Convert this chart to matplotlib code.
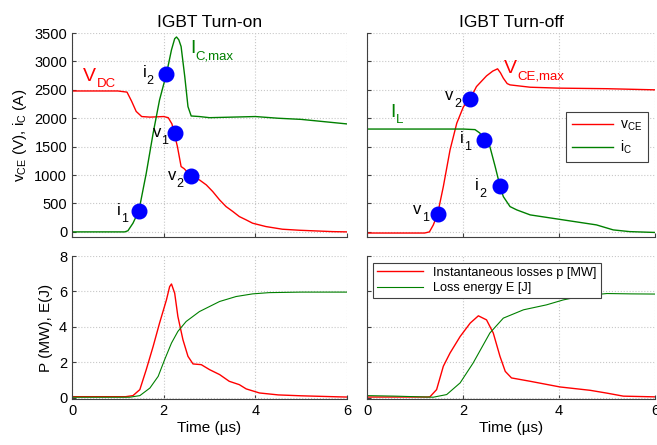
import matplotlib
matplotlib.use("Agg")
import matplotlib.pyplot as plt

plt.rcParams['font.family'] = ['Liberation Sans', 'DejaVu Sans']
plt.rcParams['mathtext.fontset'] = 'custom'
plt.rcParams['mathtext.rm'] = 'Liberation Sans'
plt.rcParams['mathtext.it'] = 'Liberation Sans'

# ---------------- data ----------------
# turn-on: collector-emitter voltage (V)
on_v_t = [0, 1.0, 1.2, 1.3, 1.4, 1.52, 1.7, 2.0, 2.1, 2.18, 2.3, 2.38, 2.45, 2.52, 2.6,
          2.78, 2.93, 3.07, 3.22, 3.36, 3.51, 3.65, 3.8, 3.94, 4.23, 4.59, 4.96, 5.68, 6.0]
on_v = [2480, 2480, 2460, 2300, 2120, 2030, 2020, 2030, 2010, 1900, 1500, 1150, 1110, 1050, 985,
        915, 827, 710, 563, 446, 358, 270, 211, 153, 94, 47, 29, 5, 0]
# turn-on: collector current (A)
on_i_t = [0, 1.15, 1.22, 1.33, 1.46, 1.62, 1.77, 1.91, 2.06, 2.17, 2.24, 2.28, 2.33, 2.38, 2.46,
          2.53, 2.6, 2.78, 3.0, 3.5, 4.0, 4.5, 5.0, 5.5, 6.0]
on_i = [0, 0, 20, 153, 375, 1033, 1737, 2323, 2780, 3203, 3400, 3430, 3380, 3262, 2733,
        2205, 2040, 2030, 2010, 2020, 2030, 2000, 1980, 1940, 1900]
# turn-on: losses p (MW) and energy E (J)
on_p_t = [0, 1.17, 1.33, 1.48, 1.62, 1.77, 1.91, 2.06, 2.13, 2.17, 2.24, 2.31, 2.42, 2.53,
          2.64, 2.82, 3.0, 3.22, 3.43, 3.65, 3.8, 4.09, 4.5, 5.0, 5.83, 6.0]
on_p = [0.05, 0.05, 0.11, 0.45, 1.58, 2.89, 4.21, 5.52, 6.27, 6.42, 5.9, 4.58, 3.27, 2.33,
        1.9, 1.86, 1.58, 1.3, 0.92, 0.73, 0.49, 0.26, 0.15, 0.1, 0.04, 0.03]
on_e_t = [0, 1.26, 1.48, 1.7, 1.88, 2.02, 2.17, 2.31, 2.49, 2.78, 3.22, 3.58, 3.94, 4.3, 5.0, 6.0]
on_e = [0.02, 0.02, 0.11, 0.54, 1.2, 2.14, 3.08, 3.74, 4.3, 4.86, 5.43, 5.71, 5.86, 5.93,
        5.96, 5.96]

# turn-off: voltage (V) and current (A)
off_v_t = [0, 1.2, 1.3, 1.38, 1.47, 1.59, 1.73, 1.87, 2.01, 2.15, 2.28, 2.49, 2.62, 2.72,
           2.78, 2.84, 2.92, 2.98, 3.4, 4.0, 5.0, 6.0]
off_v = [-20, -20, 0, 120, 311, 797, 1443, 1913, 2205, 2340, 2557, 2746, 2830, 2870,
         2800, 2705, 2610, 2587, 2546, 2530, 2520, 2500]
off_i_t = [0, 2.0, 2.25, 2.35, 2.44, 2.56, 2.67, 2.77, 2.84, 2.98, 3.12, 3.4, 4.09, 4.78,
           5.13, 5.47, 6.0]
off_i = [1810, 1810, 1800, 1740, 1618, 1500, 1149, 809, 621, 445, 387, 299, 211, 123,
         35, 5, -10]
# turn-off: losses p (MW) and energy E (J)
off_p_t = [0, 1.25, 1.31, 1.45, 1.59, 1.73, 1.94, 2.15, 2.32, 2.49, 2.63, 2.77, 2.88, 3.01,
           3.4, 4.02, 4.65, 5.0, 5.34, 6.0]
off_p = [0.03, 0.03, 0.04, 0.45, 1.77, 2.52, 3.45, 4.21, 4.62, 4.39, 3.65, 2.33, 1.48, 1.11,
         0.92, 0.6, 0.41, 0.25, 0.08, 0.04]
off_e_t = [0, 0.6, 1.38, 1.66, 1.94, 2.21, 2.56, 2.84, 3.26, 3.74, 4.09, 4.5, 5.0, 5.5, 6.0]
off_e = [0.11, 0.08, 0.02, 0.17, 0.83, 1.95, 3.65, 4.49, 4.96, 5.24, 5.52, 5.75, 5.88, 5.86, 5.85]

# switching instants (time, value)
on_marks_t = [1.46, 2.06, 2.24, 2.59]
on_marks_y = [375, 2780, 1740, 985]
off_marks_t = [1.47, 2.15, 2.44, 2.77]
off_marks_y = [311, 2340, 1618, 809]

RED = '#ff0000'
GREEN = '#008000'
BLUE = '#0000ff'

fig = plt.figure(figsize=(6.57, 4.45), dpi=100)
ax_tl = fig.add_axes([0.1096, 0.4674, 0.4186, 0.4584])
ax_tr = fig.add_axes([0.5586, 0.4674, 0.4384, 0.4584])
ax_bl = fig.add_axes([0.1096, 0.1034, 0.4186, 0.3213])
ax_br = fig.add_axes([0.5586, 0.1034, 0.4384, 0.3213])


def style(ax, top):
    ax.set_xlim(0, 6)
    ax.set_xticks([0, 2, 4, 6])
    if top:
        ax.set_ylim(-90, 3500)
        ax.set_yticks(range(0, 3501, 500))
        ax.set_xticklabels([])
    else:
        ax.set_ylim(-0.08, 8)
        ax.set_yticks([0, 2, 4, 6, 8])
    ax.grid(True, linestyle=':', color='#c8c8c8', linewidth=0.8)
    ax.set_axisbelow(True)
    for s in ['top', 'right']:
        ax.spines[s].set_visible(False)
    for s in ['left', 'bottom']:
        ax.spines[s].set_color('#404040')
    ax.tick_params(direction='in', length=3, color='#404040', labelsize=10.5)


def sub_label(ax, x, y, main, sub, size=12, sub_size=9, drop=5.5, color='black'):
    # MATLAB-like label with a deep subscript; (x, y) = left/baseline of main text
    t = ax.text(x, y, main, fontsize=size, color=color, ha='left', va='baseline')
    ax.annotate(sub, xy=(1, 0), xycoords=t, xytext=(0.3, -(drop - 0.21 * size)),
                textcoords='offset points', fontsize=sub_size, color=color,
                ha='left', va='baseline')


for a, t in [(ax_tl, True), (ax_tr, True), (ax_bl, False), (ax_br, False)]:
    style(a, t)
ax_tr.set_yticklabels([])
ax_br.set_yticklabels([])

# ---- turn-on voltages / currents
ax_tl.plot(on_v_t, on_v, color=RED, lw=1)
ax_tl.plot(on_i_t, on_i, color=GREEN, lw=1)
ax_tl.plot(on_marks_t, on_marks_y, 'o', color=BLUE, ms=10.5, ls='none')
ax_tl.set_title('IGBT Turn-on', fontsize=12.5, pad=4)
ax_tl.set_ylabel(r'$\mathregular{v_{CE}}$ (V), $\mathregular{i_C}$ (A)', fontsize=11)
sub_label(ax_tl, 0.24, 2658, 'V', 'DC', size=14, sub_size=9.5, drop=4.5, color=RED)
sub_label(ax_tl, 2.57, 3150, 'I', 'C,max', size=14, sub_size=9.5, drop=4.5, color=GREEN)
sub_label(ax_tl, 0.98, 300, 'i', '1')
sub_label(ax_tl, 1.54, 2728, 'i', '2')
sub_label(ax_tl, 1.76, 1672, 'v', '1')
sub_label(ax_tl, 2.09, 915, 'v', '2')

# ---- turn-off voltages / currents
ax_tr.plot(off_v_t, off_v, color=RED, lw=1, label=r'$\mathregular{v_{CE}}$')
ax_tr.plot(off_i_t, off_i, color=GREEN, lw=1, label=r'$\mathregular{i_C}$')
ax_tr.plot(off_marks_t, off_marks_y, 'o', color=BLUE, ms=10.5, ls='none')
ax_tr.set_title('IGBT Turn-off', fontsize=12.5, pad=4)
sub_label(ax_tr, 2.85, 2798, 'V', 'CE,max', size=14, sub_size=9.5, drop=4.5, color=RED)
sub_label(ax_tr, 0.48, 2024, 'I', 'L', size=14, sub_size=9.5, drop=4.5, color=GREEN)
sub_label(ax_tr, 0.96, 317, 'v', '1')
sub_label(ax_tr, 1.63, 2323, 'v', '2')
sub_label(ax_tr, 1.94, 1566, 'i', '1')
sub_label(ax_tr, 2.25, 739, 'i', '2')
leg = ax_tr.legend(loc='upper right', bbox_to_anchor=(1.0, 0.645), fontsize=10,
                   handlelength=3.0, fancybox=False, framealpha=1, edgecolor='#404040',
                   borderpad=0.4, labelspacing=0.4, handletextpad=0.5)
leg.get_frame().set_linewidth(0.8)

# ---- losses
ax_bl.plot(on_p_t, on_p, color=RED, lw=1)
ax_bl.plot(on_e_t, on_e, color=GREEN, lw=0.8)
ax_bl.set_ylabel('P (MW), E(J)', fontsize=11)
ax_bl.set_xlabel('Time (\u00b5s)', fontsize=11, labelpad=2)

ax_br.plot(off_p_t, off_p, color=RED, lw=1, label='Instantaneous losses p [MW]')
ax_br.plot(off_e_t, off_e, color=GREEN, lw=0.8, label='Loss energy E [J]')
ax_br.set_xlabel('Time (\u00b5s)', fontsize=11, labelpad=2)
leg2 = ax_br.legend(loc='upper left', bbox_to_anchor=(0.0, 0.995), fontsize=9.2,
                    handlelength=3.6, fancybox=False, framealpha=1, edgecolor='#404040',
                    borderpad=0.3, labelspacing=0.25)
leg2.get_frame().set_linewidth(0.8)

fig.savefig('out.png', dpi=100)
